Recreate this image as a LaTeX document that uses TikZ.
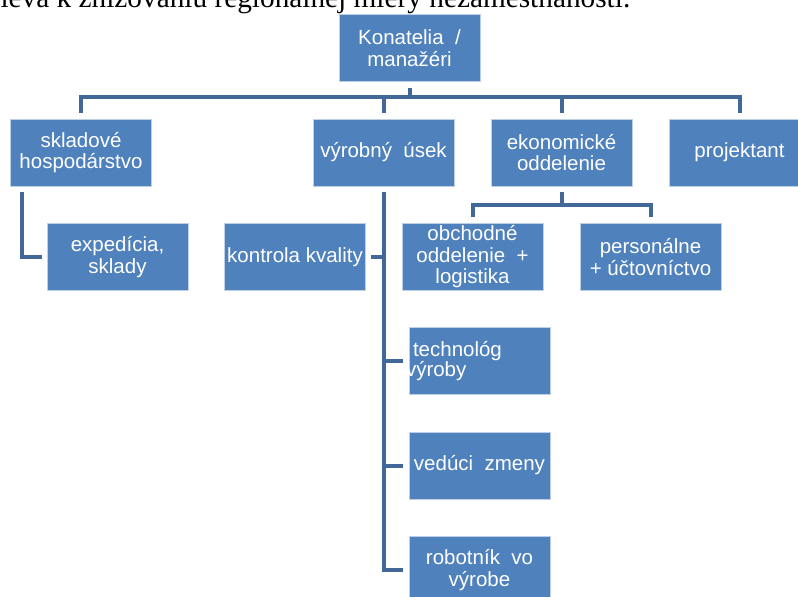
\documentclass[tikz,border=0pt]{standalone}
\usepackage{fontspec}
\setmainfont{Liberation Sans}
\newfontfamily\bodyfont{Liberation Serif}
\usetikzlibrary{positioning}
\definecolor{boxblue}{RGB}{79,129,189}
\definecolor{lineblue}{RGB}{65,104,152}
\definecolor{boxedge}{RGB}{190,208,230}

\begin{document}
\begin{tikzpicture}[x=1pt,y=-1pt,
    unit/.style={draw=boxedge,line width=0.6pt,fill=boxblue,text=white,minimum width=141pt,minimum height=67pt,inner sep=1pt,align=center,font=\fontsize{20.5}{21.5}\selectfont},
    orgline/.style={draw=lineblue,line width=4pt}]
    \clip (0,0) rectangle (798,597);
    \node[anchor=base west,font=\bodyfont\fontsize{29.3}{32}\selectfont] (intro) at (-3,7) {ieva k znižovaniu regionálnej miery nezamestnanosti.};
    \node[unit] (kon) at (409.5,48) {Konatelia~~/\\manažéri};
    \node[unit] (skl) at (81,152.5) {skladové\\hospodárstvo};
    \node[unit] (vyr) at (383.5,152.5) {výrobný~~úsek};
    \node[unit] (eko) at (561.5,152.5) {ekonomické\\oddelenie};
    \node[unit] (pro) at (739.5,152.5) {projektant};
    \node[unit] (exp) at (117.5,257) {expedícia,\\sklady};
    \node[unit] (kva) at (295,257) {kontrola kvality};
    \node[unit] (obc) at (472.5,257) {obchodné\\oddelenie~~+\\logistika};
    \node[unit] (per) at (650.5,257) {personálne\\+ účtovníctvo};
    \node[unit,align=left,text width=137pt] (tec) at (479.5,361) {\hspace*{2pt}technológ\\[-1pt]\hspace*{-5pt}výroby};
    \node[unit] (ved) at (479.5,465.5) {vedúci~~zmeny};
    \node[unit] (rob) at (479.5,570) {robotník~~vo\\výrobe};
    \coordinate (bus) at (0,97);
    \coordinate (ekobus) at (0,205);
    % top level
    \draw[orgline] ([yshift=-6pt]kon.south) -- (kon.south |- bus);
    \draw[orgline] ([yshift=6pt]skl.north) |- (bus -| pro.north) -- ([yshift=6pt]pro.north);
    \draw[orgline] ([yshift=6pt]vyr.north) -- (vyr.north |- bus);
    \draw[orgline] ([yshift=6pt]eko.north) -- (eko.north |- bus);
    % sklad
    \draw[orgline] ([xshift=12pt,yshift=-6pt]skl.south west) |- ([xshift=-5pt]exp.west);
    % vyroba
    \draw[orgline] ([yshift=-6pt]vyr.south) |- ([xshift=-6pt]rob.west);
    \draw[orgline] ([xshift=5pt]kva.east) -- (kva.east -| vyr.south);
    \draw[orgline] ([xshift=-6pt]tec.west) -- (tec.west -| vyr.south);
    \draw[orgline] ([xshift=-6pt]ved.west) -- (ved.west -| vyr.south);
    % ekonomika
    \draw[orgline] ([yshift=-6pt]eko.south) -- (eko.south |- ekobus);
    \draw[orgline] ([yshift=6pt]obc.north) |- (ekobus -| per.north) -- ([yshift=6pt]per.north);
\end{tikzpicture}
\end{document}
